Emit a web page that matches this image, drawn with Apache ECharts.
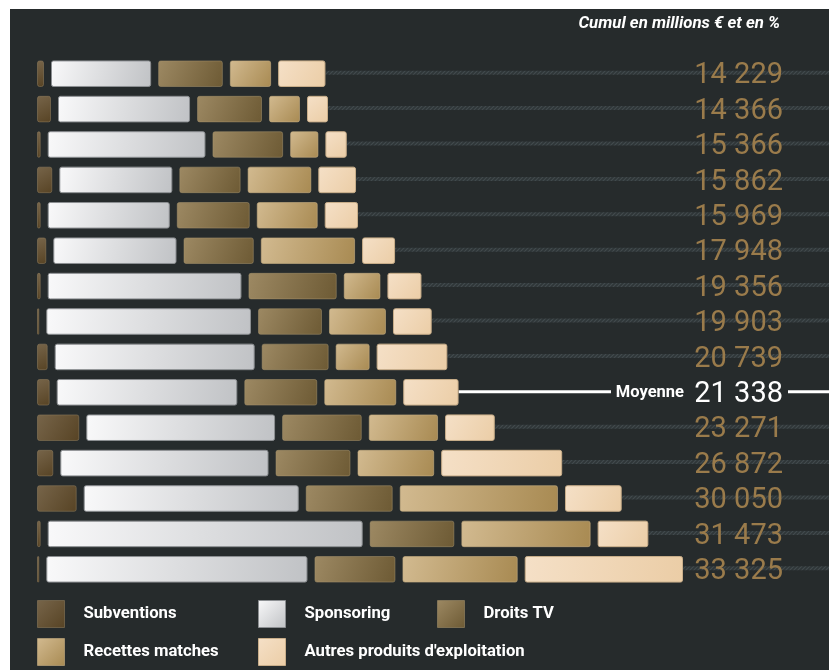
<!DOCTYPE html>
<html>
<head>
<meta charset="utf-8">
<script src="https://cdn.jsdelivr.net/npm/echarts@6/dist/echarts.min.js"></script>
<style>
  html, body { margin: 0; padding: 0; background: #ffffff; }
  #chart { width: 829px; height: 670px; }
</style>
</head>
<body>
<div id="chart"></div>
<script>
// ---- data (millions €) ----
const totalLabels = ['14 229', '14 366', '15 366', '15 862', '15 969', '17 948', '19 356', '19 903',
  '20 739', '21 338', '23 271', '26 872', '30 050', '31 473', '33 325'];
const totals = [14229, 14366, 15366, 15862, 15969, 17948, 19356, 19903, 20739, 21338, 23271, 26872, 30050, 31473, 33325];
const subventions = [438, 812, 262, 881, 262, 561, 262, 187, 635, 742, 2323, 935, 2184, 262, 187];
const sponsoring = [5412, 7115, 8488, 6100, 6582, 6643, 10411, 10995, 10743, 9708, 10145, 11183, 11547, 16884, 14011];
const droitsTV = [3519, 3535, 3839, 3338, 3962, 3818, 4779, 3482, 3642, 3962, 4320, 4069, 4710, 4587, 4389];
const recettes = [2270, 1719, 1575, 3466, 3321, 5100, 2024, 3108, 1880, 3909, 3765, 4160, 8517, 6969, 6221];
const autres = [2590, 1185, 1202, 2077, 1842, 1826, 1880, 2131, 3839, 3017, 2718, 6525, 3092, 2771, 8517];
const seriesNames = ['Subventions', 'Sponsoring', 'Droits TV', 'Recettes matches', "Autres produits d'exploitation"];
const meanIndex = 9;
const meanLabel = 'Moyenne';
const titleText = 'Cumul en millions € et en %';

// ---- styles ----
const BG = '#262b2c';
const STEP = 5.8;     // px shift added per segment (gap)
const SHRINK = 1.2;   // px
const styles = [
  { c0: '#77654a', c1: '#574324', stroke: 'rgba(150,130,95,0.5)' },
  { c0: '#f9f9fa', c1: '#c0c2c5', stroke: '#8c8f92' },
  { c0: '#9d8963', c1: '#6d5a34', stroke: 'rgba(170,150,110,0.5)' },
  { c0: '#d2ba90', c1: '#a88a52', stroke: 'rgba(200,175,130,0.6)' },
  { c0: '#f5e0c7', c1: '#ebcda6', stroke: '#c9ae8a' }
];
function grad(s) {
  return { type: 'linear', x: 0, y: 0, x2: 1, y2: 1,
    colorStops: [{ offset: 0, color: s.c0 }, { offset: 1, color: s.c1 }] };
}

// hatched pattern for row lines
const pc = document.createElement('canvas');
pc.width = 4; pc.height = 4;
const pctx = pc.getContext('2d');
pctx.fillStyle = '#2f3638';
pctx.fillRect(0, 0, 4, 4);
pctx.strokeStyle = '#434b4e';
pctx.lineWidth = 1.2;
pctx.beginPath();
pctx.moveTo(0, 4); pctx.lineTo(4, 0);
pctx.moveTo(-1, 1); pctx.lineTo(1, -1);
pctx.moveTo(3, 5); pctx.lineTo(5, 3);
pctx.stroke();
const hatch = { image: pc, repeat: 'repeat' };

const segs = [subventions, sponsoring, droitsTV, recettes, autres];
const cum = totals.map(() => 0);
const seriesData = segs.map(arr => arr.map((v, i) => {
  const s = cum[i];
  cum[i] += v;
  return [s, s + v, i];
}));

function makeRender(k) {
  const st = styles[k];
  const fill = grad(st);
  return function (params, api) {
    const row = api.value(2);
    const a = api.coord([api.value(0), row]);
    const b = api.coord([api.value(1), row]);
    const band = api.size([0, 1])[1];
    const h = band * 0.75;
    const x = a[0] + k * STEP + 0.5;
    const w = Math.max(b[0] - a[0] - SHRINK - 1, 1);
    return {
      type: 'rect',
      shape: { x: x, y: a[1] - h / 2 + 0.5, width: w, height: h - 1, r: 2 },
      style: { fill: fill, stroke: st.stroke, lineWidth: 1 }
    };
  };
}

function renderTotals(params, api) {
  const i = api.value(1);
  const end = api.coord([api.value(0), i]);
  const x0 = end[0] + 4 * STEP - SHRINK;
  const yc = end[1];
  const W = api.getWidth();
  const label = totalLabels[i];
  const children = [];
  if (i === meanIndex) {
    children.push({ type: 'rect', shape: { x: x0, y: yc - 2, width: 611 - x0, height: 3 }, style: { fill: '#ffffff' } });
    children.push({ type: 'text', style: { text: meanLabel, x: 684, y: yc + 1, align: 'right', verticalAlign: 'middle',
      fill: '#ffffff', font: 'bold 16.5px Roboto' } });
    children.push({ type: 'text', style: { text: label, x: 783, y: yc + 2.5, align: 'right', verticalAlign: 'middle',
      fill: '#ffffff', font: '400 29px Roboto' } });
    children.push({ type: 'rect', shape: { x: 788, y: yc - 2, width: W - 788, height: 3 }, style: { fill: '#ffffff' } });
  } else {
    children.push({ type: 'rect', shape: { x: x0, y: yc - 3, width: W - x0, height: 4 }, style: { fill: hatch } });
    children.push({ type: 'text', style: { text: label, x: 783, y: yc + 2.5, align: 'right', verticalAlign: 'middle',
      fill: '#9a7b4b', font: '400 29px Roboto' } });
  }
  return { type: 'group', children: children };
}

const series = seriesNames.map((name, k) => ({
  type: 'custom',
  name: name,
  renderItem: makeRender(k),
  encode: { x: [0, 1], y: 2 },
  itemStyle: { color: grad(styles[k]), borderColor: styles[k].stroke, borderWidth: 1 },
  data: seriesData[k],
  z: 3
}));
series.push({
  type: 'custom',
  name: 'Total',
  renderItem: renderTotals,
  encode: { x: 0, y: 1 },
  data: totals.map((t, i) => [t, i]),
  z: 2,
  silent: true
});

function legendBlock(names, left) {
  return {
    orient: 'vertical', left: left, top: 600, padding: 0,
    itemWidth: 27, itemHeight: 27, itemGap: 10,
    selectedMode: false,
    icon: 'rect',
    data: names.map(n => {
      const k = seriesNames.indexOf(n);
      return { name: n, itemStyle: { color: grad(styles[k]), borderColor: styles[k].stroke, borderWidth: 1 } };
    }),
    textStyle: { color: '#ffffff', fontWeight: 'bold', fontSize: 16.7, fontFamily: 'Roboto', padding: [0, 0, 0, 14] }
  };
}

const chart = echarts.init(document.getElementById('chart'), null, { renderer: 'canvas' });
chart.setOption({
  animation: false,
  backgroundColor: '#ffffff',
  textStyle: { fontFamily: 'Roboto' },
  graphic: [{ type: 'rect', left: 10, top: 9, shape: { width: 819, height: 661 }, style: { fill: BG }, z: -10, silent: true }],
  title: {
    text: titleText, right: 49, top: 15, padding: 0,
    textStyle: { color: '#ffffff', fontSize: 16.8, fontStyle: 'italic', fontWeight: 'bold', fontFamily: 'Roboto' }
  },
  legend: [
    legendBlock(['Subventions', 'Recettes matches'], 37),
    legendBlock(['Sponsoring', "Autres produits d'exploitation"], 258),
    legendBlock(['Droits TV'], 437)
  ],
  grid: { left: 37, right: 43, top: 56, bottom: 83 },
  xAxis: { type: 'value', min: 0, max: 40000, show: false },
  yAxis: { type: 'category', data: totalLabels, inverse: true, show: false },
  series: series
});
</script>
</body>
</html>
